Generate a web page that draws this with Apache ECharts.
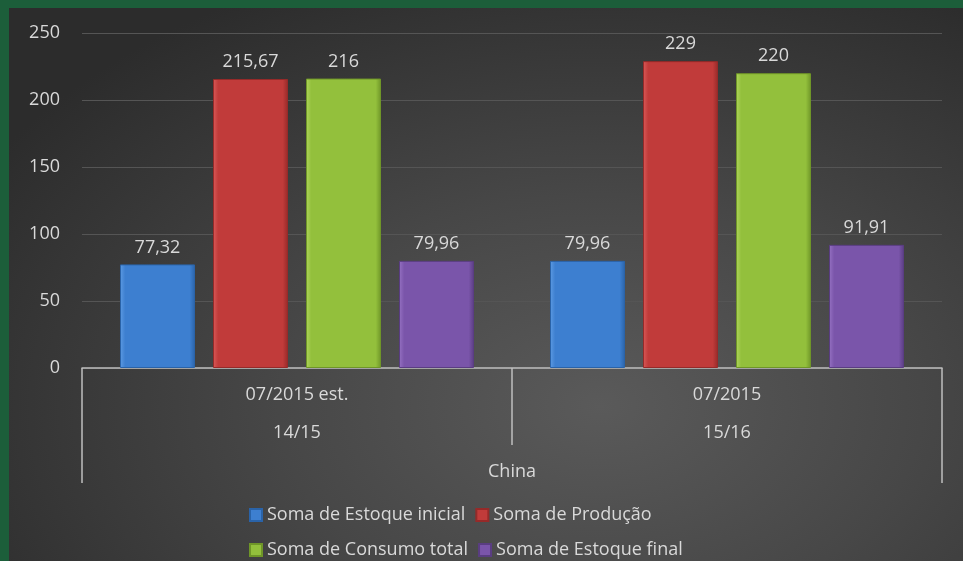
<!DOCTYPE html>
<html>
<head>
<meta charset="utf-8">
<script src="https://cdn.jsdelivr.net/npm/echarts@6/dist/echarts.min.js"></script>
<style>
html,body{margin:0;padding:0;width:963px;height:561px;overflow:hidden;background:#1c5e3a;}
#bg{position:absolute;left:9px;top:8px;width:954px;height:553px;
 background:radial-gradient(ellipse 75% 85% at 62% 72%, #5a5a5a 0%, #474747 45%, #2c2c2c 100%);}
#chart{position:absolute;left:0;top:0;width:963px;height:561px;}
</style>
</head>
<body>
<div id="bg"></div>
<div id="chart"></div>
<script>
const periods = ['07/2015 est.', '07/2015'];
const seasons = ['14/15', '15/16'];
const countries = ['China'];
const seriesNames = ['Soma de Estoque inicial', 'Soma de Produção', 'Soma de Consumo total', 'Soma de Estoque final'];
const estoqueInicial = [77.32, 79.96];
const producao = [215.67, 229];
const consumoTotal = [216, 220];
const estoqueFinal = [79.96, 91.91];
const yTicks = [0, 50, 100, 150, 200, 250];

const colors = [
  ['#5d9be3', '#3d7fd0', '#2a63a8'],
  ['#d95a58', '#c13b3a', '#962a29'],
  ['#b0d65c', '#93c03c', '#6f9628'],
  ['#9571c2', '#7a55aa', '#5a3d82']
];
const txt = '#d9d9d9';
const font = "'Open Sans', 'Noto Sans', sans-serif";
const fs = 18;

function grad(c) {
  return {
    type: 'linear', x: 0, y: 0, x2: 1, y2: 0,
    colorStops: [
      {offset: 0, color: c[0]}, {offset: 0.07, color: c[1]},
      {offset: 0.93, color: c[1]}, {offset: 1, color: c[2]}
    ]
  };
}
const values = [estoqueInicial, producao, consumoTotal, estoqueFinal];

const chart = echarts.init(document.getElementById('chart'), null, {renderer: 'canvas'});
chart.setOption({
  backgroundColor: 'transparent',
  textStyle: {fontFamily: font},
  animation: false,
  grid: {left: 82, right: 21, top: 33, bottom: 193, containLabel: false},
  legend: [
    {data: seriesNames.slice(0, 2), left: 244, top: 501, itemWidth: 12, itemHeight: 12, itemGap: 10,
     icon: 'rect', textStyle: {color: txt, fontSize: fs, fontFamily: font}},
    {data: seriesNames.slice(2, 4), left: 244, top: 536, itemWidth: 12, itemHeight: 12, itemGap: 10,
     icon: 'rect', textStyle: {color: txt, fontSize: fs, fontFamily: font}}
  ],
  xAxis: [
    {type: 'category', data: periods, position: 'bottom',
     axisLine: {show: true, lineStyle: {color: '#bfbfbf', width: 1.5}},
     axisTick: {show: true, length: 77, interval: 0, lineStyle: {color: '#bfbfbf', width: 1.5}},
     axisLabel: {color: txt, fontSize: fs, margin: 18, fontFamily: font}},
    {type: 'category', data: seasons, position: 'bottom',
     axisLine: {show: false}, axisTick: {show: false},
     axisLabel: {color: txt, fontSize: fs, margin: 56, fontFamily: font}},
    {type: 'category', data: countries, position: 'bottom',
     axisLine: {show: false},
     axisTick: {show: true, length: 115, interval: 0, lineStyle: {color: '#bfbfbf', width: 1.5}},
     axisLabel: {color: txt, fontSize: fs, margin: 95, fontFamily: font}}
  ],
  yAxis: {
    type: 'value', min: yTicks[0], max: yTicks[yTicks.length - 1], interval: yTicks[1] - yTicks[0],
    axisLine: {show: false}, axisTick: {show: false},
    axisLabel: {color: txt, fontSize: fs, margin: 22, fontFamily: font},
    splitLine: {lineStyle: {color: '#555555', width: 1}}
  },
  series: seriesNames.map((name, i) => ({
    name: name, type: 'bar', xAxisIndex: 0, data: values[i],
    barWidth: 75, barGap: '24%',
    itemStyle: {color: grad(colors[i]), borderColor: colors[i][2], borderWidth: 1},
    label: {show: true, position: 'top', distance: 8, color: txt, fontSize: fs, fontFamily: font,
      formatter: p => String(p.value).replace('.', ',')}
  }))
});
</script>
</body>
</html>
